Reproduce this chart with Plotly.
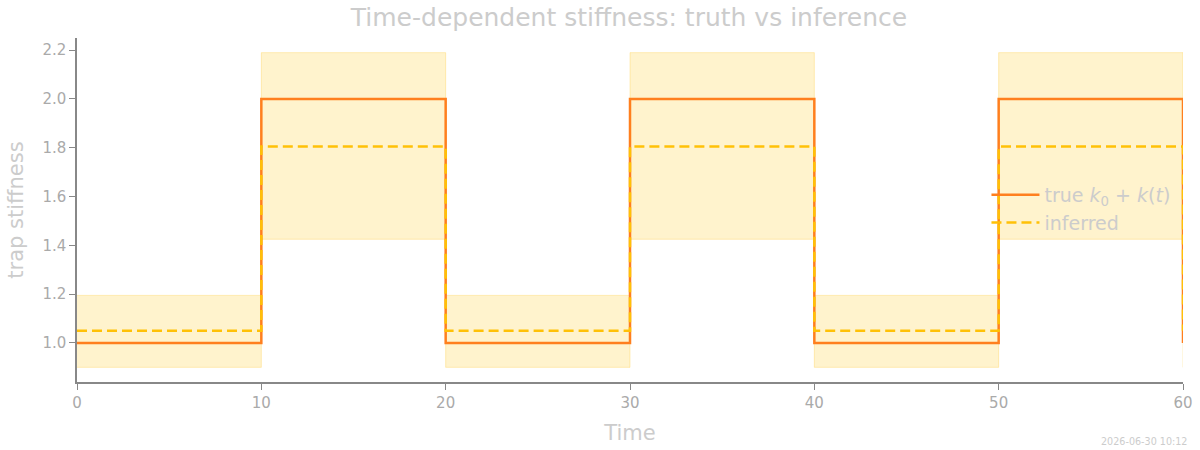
import plotly.graph_objects as go

# Data
times = [0, 10, 20, 30, 40, 50, 60]
true_k = [1.0, 2.0, 1.0, 2.0, 1.0, 2.0, 1.0]
inferred_mean = [1.05, 1.805, 1.05, 1.805, 1.05, 1.805, 1.05]
inferred_lo = [0.90, 1.425, 0.90, 1.425, 0.90, 1.425, 0.90]
inferred_hi = [1.195, 2.19, 1.195, 2.19, 1.195, 2.19, 1.195]
x_ticks = [0, 10, 20, 30, 40, 50, 60]
y_ticks = [1.0, 1.2, 1.4, 1.6, 1.8, 2.0, 2.2]

FONT = "DejaVu Sans"
band_fill = "rgba(255,193,7,0.2)"
band_edge = "rgba(255,193,7,0.25)"

fig = go.Figure()
fig.add_trace(go.Scatter(x=times, y=inferred_lo, mode="lines", line=dict(shape="hv", color=band_edge, width=1),
                         showlegend=False, hoverinfo="skip"))
fig.add_trace(go.Scatter(x=times, y=inferred_hi, mode="lines", line=dict(shape="hv", color=band_edge, width=1),
                         fill="tonexty", fillcolor=band_fill, showlegend=False, hoverinfo="skip"))
fig.add_trace(go.Scatter(x=times, y=true_k, mode="lines", name="true <i>k</i><sub>0</sub> + <i>k</i>(<i>t</i>)",
                         line=dict(shape="hv", color="#FF7F1E", width=2.5)))
fig.add_trace(go.Scatter(x=times, y=inferred_mean, mode="lines", name="inferred",
                         line=dict(shape="hv", color="#FFC107", width=2.5, dash="10px,5px")))

fig.update_layout(
    width=1200, height=450,
    margin=dict(l=77, r=17, t=38, b=68),
    paper_bgcolor="white", plot_bgcolor="white",
    font=dict(family=FONT, color="#aaaaaa"),
    title=dict(text="Time-dependent stiffness: truth vs inference", x=(76 + 1182) / 2 / 1200, xanchor="center",
               y=1 - 17 / 450, yanchor="middle", font=dict(size=25, color="#cccccc", family=FONT)),
    legend=dict(x=0.8223, y=0.503, xanchor="left", yanchor="middle", bgcolor="rgba(0,0,0,0)",
                traceorder="normal", itemwidth=48,
                font=dict(size=19, color="#cccccc", family=FONT)),
    xaxis=dict(range=[0, 60], tickvals=x_ticks, showgrid=False, zeroline=False, showline=True, automargin=False,
               linecolor="#888888", linewidth=1.5, ticks="outside", ticklen=6, tickcolor="#888888",
               tickfont=dict(size=15, color="#aaaaaa"),
               title=dict(text="Time", font=dict(size=21, color="#cccccc"), standoff=15)),
    yaxis=dict(range=[0.84, 2.25], tickvals=y_ticks, tickformat=".1f", showgrid=False, zeroline=False,
               automargin=False,
               showline=True, linecolor="#888888", linewidth=1.5, ticks="outside", ticklen=6,
               tickcolor="#888888", tickfont=dict(size=15, color="#aaaaaa"),
               title=dict(text="trap stiffness", font=dict(size=21, color="#cccccc"), standoff=13)),
    annotations=[dict(text="2026-06-30 10:12", xref="paper", yref="paper", x=1.0054,
                      y=-0.172, xanchor="right", yanchor="middle", showarrow=False,
                      font=dict(size=9.6, color="#cccccc", family=FONT))],
)

fig.write_html("out.html")
